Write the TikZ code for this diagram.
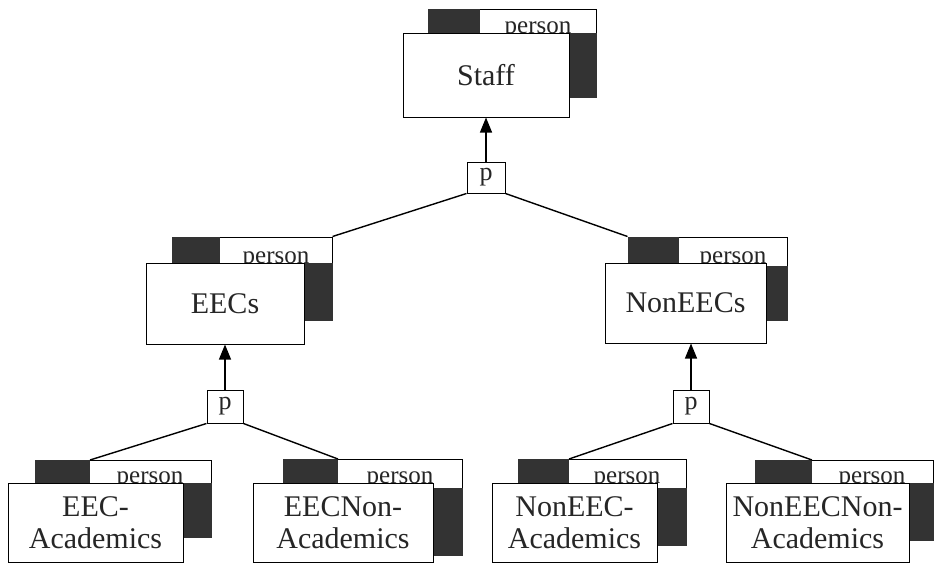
\documentclass[tikz,border=0pt]{standalone}
\usepackage{fontspec}
\setmainfont{Liberation Serif}
\usetikzlibrary{arrows.meta,fit}
\begin{document}
\begin{tikzpicture}[x=1pt,y=-1pt,
  backbox/.style={draw, line width=1pt, fill=white, inner sep=0pt},
  frontbox/.style={draw, line width=1pt, fill=white, inner sep=0pt, align=center,
    font=\fontsize{30}{32}\selectfont, text=black!85},
  patch/.style={fill=black!80},
  persontxt/.style={font=\fontsize{25}{25}\selectfont, text=black!85, anchor=base, inner sep=0pt},
  pbox/.style={draw, line width=1pt, fill=white, inner sep=0pt,
    font=\fontsize{26}{26}\selectfont, text=black!85},
  conn/.style={line width=1.4pt},
  isa/.style={line width=1.2pt, -{Triangle[length=15pt,width=12pt]}}
]
\fill[white] (0,0) rectangle (937,566);
\useasboundingbox (0,0) rectangle (937,566);

% ---- Staff ----
\node[backbox, fit={(428,9) (596,97)}] (staffB) {};
\fill[patch] (staffB.north west) rectangle (480,33);
\fill[patch] (569,33) rectangle (staffB.south east);
\node[persontxt] (staffP) at (538,33) {person};
\node[frontbox, minimum width=166pt, minimum height=84pt] (staff) at (486,75) {Staff};

% ---- EECs ----
\node[backbox, fit={(172,237) (332,320)}] (eecsB) {};
\fill[patch] (eecsB.north west) rectangle (220,263);
\fill[patch] (304,263) rectangle (eecsB.south east);
\node[persontxt] (eecsP) at (276,263) {person};
\node[frontbox, minimum width=158pt, minimum height=81pt] (eecs) at (225,303.5) {EECs};

% ---- NonEECs ----
\node[backbox, fit={(628,237) (787,320)}] (neecsB) {};
\fill[patch] (neecsB.north west) rectangle (679,263);
\fill[patch] (766,266) rectangle (neecsB.south east);
\node[persontxt] (neecsP) at (733,263) {person};
\node[frontbox, minimum width=161pt, minimum height=80pt] (neecs) at (685.5,303) {NonEECs};

% ---- EEC-Academics ----
\node[backbox, fit={(35,460) (211,537)}] (eaB) {};
\fill[patch] (eaB.north west) rectangle (90,483);
\fill[patch] (183,483) rectangle (eaB.south east);
\coordinate (eaT) at (90,460);
\node[persontxt] (eaP) at (150,483) {person};
\node[frontbox, minimum width=175pt, minimum height=79pt] (ea) at (95.5,522.5) {EEC-\\Academics};

% ---- EECNon-Academics ----
\node[backbox, fit={(283,459) (462,555)}] (enB) {};
\fill[patch] (enB.north west) rectangle (338,483);
\fill[patch] (433,488) rectangle (enB.south east);
\coordinate (enT) at (338,459);
\node[persontxt] (enP) at (400,483) {person};
\node[frontbox, minimum width=180pt, minimum height=79pt] (en) at (343,522.5) {EECNon-\\Academics};

% ---- NonEEC-Academics ----
\node[backbox, fit={(518,459) (686,545)}] (naB) {};
\fill[patch] (naB.north west) rectangle (569,483);
\fill[patch] (657,488) rectangle (naB.south east);
\coordinate (naT) at (569,459);
\node[persontxt] (naP) at (627,483) {person};
\node[frontbox, minimum width=165pt, minimum height=79pt] (na) at (574.5,522.5) {NonEEC-\\Academics};

% ---- NonEECNon-Academics ----
\node[backbox, fit={(755,460) (933,540)}] (nnB) {};
\fill[patch] (nnB.north west) rectangle (812,483);
\fill[patch] (909,483) rectangle (nnB.south east);
\coordinate (nnT) at (812,460);
\node[persontxt] (nnP) at (872,483) {person};
\node[frontbox, minimum width=183pt, minimum height=79pt] (nn) at (817.5,522.5) {NonEECNon-\\Academics};

% ---- partition nodes ----
\node[pbox, minimum width=38pt, minimum height=31pt] (pS) at (486,177.5) {p};
\node[pbox, minimum width=36pt, minimum height=33pt] (pE) at (225,406.5) {p};
\node[pbox, minimum width=36pt, minimum height=33pt] (pN) at (691,406.5) {p};

% ---- is-a arrows ----
\draw[isa] (pS.north) -- (staff.south);
\draw[isa] (pE.north) -- (eecs.south);
\draw[isa] (pN.north) -- (pN.north |- neecs.south);

% ---- partition branches ----
\draw[conn] (pS.south west) -- (eecsB.north east);
\draw[conn] (pS.south east) -- (neecsB.north west);
\draw[conn] (pE.south west) -- (eaT);
\draw[conn] (pE.south east) -- (enT);
\draw[conn] (pN.south west) -- (naT);
\draw[conn] (pN.south east) -- (nnT);
\end{tikzpicture}
\end{document}
